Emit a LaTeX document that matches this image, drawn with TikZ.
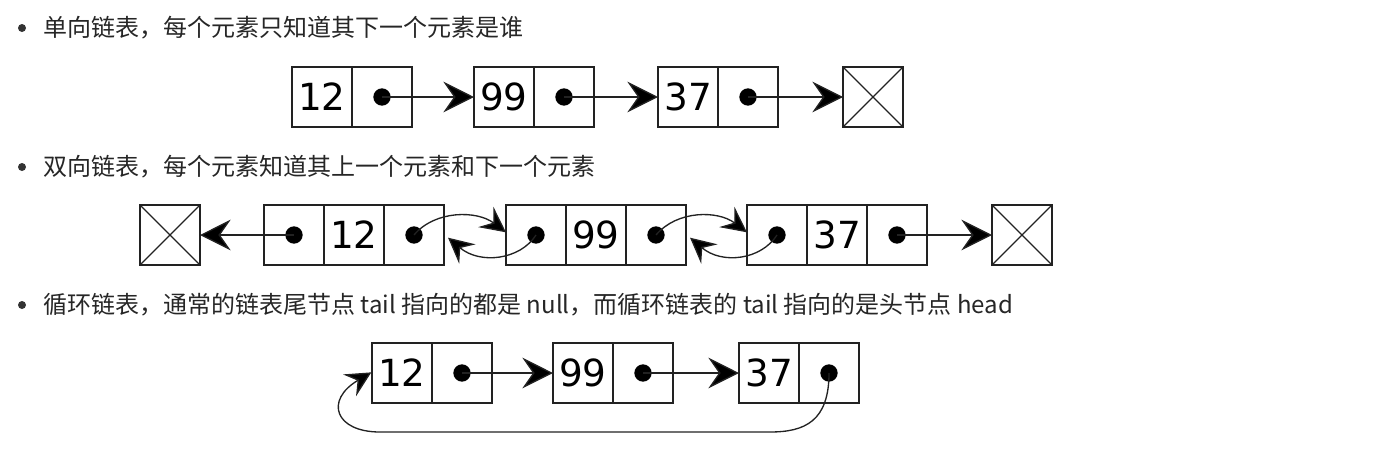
\documentclass[tikz,border=0pt]{standalone}
\usepackage{fontspec}
\newfontfamily\cjk{Noto Sans CJK SC}
\newfontfamily\numfont{DejaVu Sans}
\usetikzlibrary{arrows.meta}
\definecolor{ink}{HTML}{222222}
\tikzset{
  cell/.style={draw=ink, line width=1.3pt, minimum width=45pt, minimum height=45pt, inner sep=0pt, outer sep=0pt, font=\numfont\fontsize{28pt}{30pt}\selectfont, text=black},
  nullbox/.style={cell, path picture={\draw[ink, line width=0.9pt] (path picture bounding box.north west) -- (path picture bounding box.south east) (path picture bounding box.north east) -- (path picture bounding box.south west);}},
  ptrdot/.style={circle, fill=black, minimum size=13pt, inner sep=0pt},
  arr/.style={draw=ink, line width=1pt, -{Stealth[length=23pt, width=23pt, inset=8pt, fill=black]}},
  carr/.style={draw=ink, line width=1pt, -{Stealth[length=19pt, width=19pt, inset=7pt, fill=black]}},
  bullet/.style={circle, fill=black!80, minimum size=6pt, inner sep=0pt},
  label/.style={anchor=west, inner sep=0pt, font=\cjk\fontsize{18pt}{20pt}\selectfont, text=black!85}
}
\begin{document}
\begin{tikzpicture}[x=0.75pt, y=-0.75pt]
\useasboundingbox (0,0) rectangle (1381,472);
% row 1
\node[bullet] (u1) at (22,28) {};
\node[label] (t1) at (43,28) {单向链表，每个元素只知道其下一个元素是谁};
\node[cell] (a1v) at (322,97) {12};
\node[cell] (a1p) at (382,97) {};
\node[cell] (a2v) at (504,97) {99};
\node[cell] (a2p) at (564,97) {};
\node[cell] (a3v) at (688,97) {37};
\node[cell] (a3p) at (748,97) {};
\node[nullbox] (an) at (873,97) {};
\node[ptrdot] (a1d) at (a1p.center) {};
\node[ptrdot] (a2d) at (a2p.center) {};
\node[ptrdot] (a3d) at (a3p.center) {};
\draw[arr] (a1d.center) -- (a2v.west);
\draw[arr] (a2d.center) -- (a3v.west);
\draw[arr] (a3d.center) -- (an.west);
% row 2
\node[bullet] (u2) at (22,167) {};
\node[label] (t2) at (43,167) {双向链表，每个元素知道其上一个元素和下一个元素};
\node[nullbox] (bnl) at (170,235) {};
\node[cell] (b1a) at (294,235) {};
\node[cell] (b1v) at (354,235) {12};
\node[cell] (b1c) at (414,235) {};
\node[cell] (b2a) at (536,235) {};
\node[cell] (b2v) at (596,235) {99};
\node[cell] (b2c) at (656,235) {};
\node[cell] (b3a) at (777,235) {};
\node[cell] (b3v) at (837,235) {37};
\node[cell] (b3c) at (897,235) {};
\node[nullbox] (bnr) at (1022,235) {};
\foreach \n in {b1a,b1c,b2a,b2c,b3a,b3c} \node[ptrdot] (\n d) at (\n.center) {};
\draw[arr] (b1ad.center) -- (bnl.east);
\draw[arr] (b3cd.center) -- (bnr.west);
\draw[carr] (b1cd.center) .. controls +(21,-25) and +(-29,-22) .. ([yshift=2pt]b2a.west);
\draw[carr] (b2ad.center) .. controls +(-16,25) and +(32,27) .. ([xshift=3pt,yshift=-2pt]b1c.east);
\draw[carr] (b2cd.center) .. controls +(21,-25) and +(-29,-22) .. ([yshift=2pt]b3a.west);
\draw[carr] (b3ad.center) .. controls +(-16,25) and +(32,27) .. ([xshift=3pt,yshift=-2pt]b2c.east);
% row 3
\node[bullet] (u3) at (22,305) {};
\node[label] (t3) at (43,305) {循环链表，通常的链表尾节点 tail 指向的都是 null，而循环链表的 tail 指向的是头节点 head};
\node[cell] (c1v) at (402,373) {12};
\node[cell] (c1p) at (462,373) {};
\node[cell] (c2v) at (583,373) {99};
\node[cell] (c2p) at (643,373) {};
\node[cell] (c3v) at (769,373) {37};
\node[cell] (c3p) at (829,373) {};
\node[ptrdot] (c1d) at (c1p.center) {};
\node[ptrdot] (c2d) at (c2p.center) {};
\node[ptrdot] (c3d) at (c3p.center) {};
\draw[arr] (c1d.center) -- (c2v.west);
\draw[arr] (c2d.center) -- (c3v.west);
\coordinate (lr) at (770,432);
\coordinate (ll) at (380,432);
\draw[carr] (c3d.center) .. controls +(0,48) and +(35,0) .. (lr) -- (ll) .. controls +(-45,0) and +(-47,28) .. ([xshift=-0.5pt,yshift=0.5pt]c1v.west);
\end{tikzpicture}
\end{document}
